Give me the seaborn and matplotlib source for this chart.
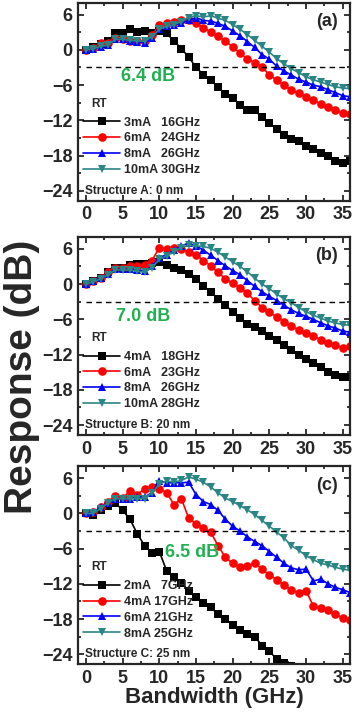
import numpy as np
import pandas as pd
import matplotlib
matplotlib.use("Agg")
import matplotlib.pyplot as plt
from matplotlib.ticker import MultipleLocator
import seaborn as sns

# ── data (frequency in GHz, response in dB) ──────────────────
freq = list(range(0, 37))

a_3mA = [0, 0.5, 1, 1.5, 2.8, 2.8, 3.5, 3, 3.2, 2.8, 3.2, 2.8, 1.5, 0.2, -1.2, -3, -4.2,
         -5.2, -6.3, -7.6, -8.2, -9.4, -10.2, -10.3, -11.5, -12.5, -13.5, -14.5, -15.2,
         -15.6, -16.3, -16.8, -17.5, -18, -19, -19.2, -19]
a_6mA = [0, 0.3, 1.2, 1.2, 2, 1.8, 1.5, 1.5, 1.5, 2.5, 4.2, 4.5, 4.8, 5, 5, 4.5, 3.8,
         3, 2.4, 1.5, 0.5, -0.6, -1.5, -2.2, -3, -4.2, -5.2, -6, -6.8, -7.4, -8, -8.6,
         -9.2, -9.7, -10.2, -10.8, -11]
a_8mA = [0, 0.2, 0.5, 0.8, 1.8, 1.8, 1.5, 1.3, 1.2, 2, 3.5, 4, 4.3, 4.5, 5, 5.5, 5,
         4.9, 4.5, 4, 3.2, 2.4, 1.4, 0.4, -0.8, -1.6, -2.8, -3.6, -4.3, -5, -5.5, -6,
         -6.3, -6.8, -7.3, -7.8, -8]
a_10mA = [0, 0.2, 0.6, 0.8, 1.8, 1.8, 1.6, 1.5, 1.5, 2.2, 3.5, 4, 4.3, 4.8, 5.5, 5.8,
          5.6, 5.8, 5.4, 5, 4.3, 3.5, 2.6, 1.6, 0.6, -0.4, -1.5, -2.4, -3.2, -3.9, -4.6,
          -5.1, -5.5, -5.9, -6.3, -6.5, -6.6]

b_4mA = [0, 0.5, 1, 2, 2.8, 2.8, 3.2, 3.5, 3.5, 3.6, 3.8, 3.2, 2.8, 2.4, 1.8, 0.8, -0.3,
         -1.3, -2.5, -3.5, -4.8, -5.8, -6.8, -7.3, -8, -8.8, -9.5, -10.3, -11.3, -12,
         -12.8, -13.5, -14.2, -15, -15.5, -15.8, -15.8]
b_6mA = [0, 0.5, 1, 2, 2.8, 2.8, 3, 3, 3.2, 4, 6.2, 6, 6.2, 6, 5.5, 5, 4, 3.1, 2, 0.9,
         0.1, -0.6, -1.6, -2.8, -4, -4.8, -5.6, -6.4, -7.2, -7.8, -8.3, -8.8, -9.5, -10,
         -10.4, -10.8, -10.6]
b_8mA = [0, 0.5, 1, 1.8, 2.5, 2.5, 2.5, 2.4, 2.3, 3, 4.5, 5, 5.8, 6.5, 7, 6.5, 5.8, 4.9,
         4, 3.1, 2.3, 1.6, 0.6, -0.4, -1.3, -2.1, -2.8, -3.6, -4.4, -5, -5.5, -6, -6.6,
         -7.1, -7.5, -8, -8.2]
b_10mA = [0, 0.4, 0.9, 1.6, 2.4, 2.4, 2.4, 2.2, 2, 2.8, 4.2, 4.8, 5.5, 6.2, 6.6, 6.5,
          6.4, 6.1, 5.4, 4.6, 3.8, 3, 2.1, 1, 0, -0.8, -1.7, -2.5, -3.2, -4, -4.7, -5.3,
          -5.8, -6.3, -6.6, -6.9, -7]

c_2mA = [0, -0.2, 0.5, 1.2, 1.8, 0.5, -1, -3.5, -5.5, -6.8, -6.5, -9.8, -10.8, -11.8,
         -13.2, -14.2, -15.2, -16, -17.2, -18, -19, -19.8, -20.5, -21, -22.5, -23.5,
         -24.8, -25.5, -26, -26.5, -27, -27.5, -28, -28.5, -29, -29.5, -30]
c_4mA = [0, 0.2, 1, 2, 3, 2.6, 3.8, 3.2, 4.2, 4.5, 4.2, 3.5, 1.5, 2.5, -0.8, -1.8, -2.5,
         -3.2, -5.5, -7.5, -8.5, -9.2, -9, -8.5, -9.5, -10.5, -11.3, -12.2, -13, -13.5,
         -13.2, -15.8, -16.2, -16.5, -17.2, -17.8, -18.2]
c_6mA = [0, 0.2, 1, 1.8, 2.5, 2.5, 2.5, 2.8, 2.8, 3.5, 5.5, 5.2, 5.2, 5.2, 5.3, 3.2, 2,
         1.5, 0.5, -1, -2.2, -3, -4, -4.8, -5.5, -6.5, -7.5, -8.5, -9.3, -9.6, -9.5,
         -11.5, -11.2, -12, -12.6, -13, -13.5]
c_8mA = [0, 0, 0.8, 1.8, 2.5, 2.5, 2.5, 2.5, 2.5, 3.5, 5, 5.5, 5.3, 5.6, 6.2, 5.8, 5.3,
         4.5, 3.5, 2.6, 2, 1.3, 0.6, -0.2, -1.2, -2.2, -3.2, -4.2, -5.5, -6.3, -7.2,
         -7.9, -8.5, -8.8, -9.2, -9.5, -9.7]

labels_a = ["3mA   16GHz", "6mA   24GHz", "8mA   26GHz", "10mA 30GHz"]
labels_b = ["4mA   18GHz", "6mA   23GHz", "8mA   26GHz", "10mA 28GHz"]
labels_c = ["2mA   7GHz", "4mA 17GHz", "6mA 21GHz", "8mA 25GHz"]

gain_text = ["6.4 dB", "7.0 dB", "6.5 dB"]
panel_tags = ["(a)", "(b)", "(c)"]
structures = ["Structure A: 0 nm", "Structure B: 20 nm", "Structure C: 25 nm"]

x_ticks = [0, 5, 10, 15, 20, 25, 30, 35]
y_ticks = [6, 0, -6, -12, -18, -24]

colors = ["#000000", "#ff0000", "#0000ff", "#2a8585"]
markers = ["s", "o", "^", "v"]

# ── style ────────────────────────────────────────────────────
sns.set_style("ticks")
plt.rcParams["font.family"] = ["Liberation Sans", "DejaVu Sans"]
plt.rcParams["font.weight"] = "bold"
plt.rcParams["axes.labelweight"] = "bold"

fig = plt.figure(figsize=(3.54, 7.12), dpi=100)
bottoms = [0.718, 0.389, 0.067]

panels = [
    ([a_3mA, a_6mA, a_8mA, a_10mA], labels_a),
    ([b_4mA, b_6mA, b_8mA, b_10mA], labels_b),
    ([c_2mA, c_4mA, c_6mA, c_8mA], labels_c),
]
gain_pos = [(8.5, -4.6), (7.8, -5.5), (14.5, -6.7)]

axes = []
for i, (series, labels) in enumerate(panels):
    ax = fig.add_axes([0.220, bottoms[i], 0.769, 0.278])
    axes.append(ax)
    for vals, lab, col, mk in zip(series, labels, colors, markers):
        df = pd.DataFrame({"f": freq, "r": vals})
        sns.lineplot(data=df, x="f", y="r", ax=ax, color=col, marker=mk,
                     markersize=6.2, markeredgewidth=0, linewidth=1.2,
                     label=lab, legend=False)

    # -3 dB reference
    ax.hlines(-3, 0, 36, colors="black", linestyles=(0, (4, 3)), linewidth=1)

    ax.set_xlim(-1.1, 36)
    ax.set_ylim(-25.7, 8)
    ax.set_xticks(x_ticks)
    ax.set_yticks(y_ticks)
    ax.xaxis.set_minor_locator(MultipleLocator(2.5))
    ax.yaxis.set_minor_locator(MultipleLocator(3))
    ax.tick_params(which="both", direction="in", top=True, right=True,
                   width=1.3, labelsize=13)
    ax.tick_params(which="major", length=4, pad=4)
    ax.tick_params(which="minor", length=2)
    for lbl in ax.get_xticklabels() + ax.get_yticklabels():
        lbl.set_fontweight("bold")
    for sp in ax.spines.values():
        sp.set_linewidth(1.6)
    ax.set_xlabel("")
    ax.set_ylabel("")

    ax.text(gain_pos[i][0], gain_pos[i][1], gain_text[i], color="#1fb150",
            fontsize=13, fontweight="bold", ha="center", va="center")
    ax.text(0.955, 0.905, panel_tags[i], transform=ax.transAxes, fontsize=13,
            fontweight="bold", ha="right", va="center")
    ax.text(0.05, 0.49, "RT", transform=ax.transAxes, fontsize=8.5,
            fontweight="bold", ha="left", va="center")
    ax.text(0.025, 0.05, structures[i], transform=ax.transAxes, fontsize=8.5,
            fontweight="bold", ha="left", va="center")

    leg = ax.legend(loc="lower left", bbox_to_anchor=(0.0, 0.10), frameon=False,
                    fontsize=9, handlelength=3.0, handletextpad=0.3,
                    labelspacing=0.3, borderpad=0.2, borderaxespad=0.2)
    for t in leg.get_texts():
        t.set_fontweight("bold")

axes[2].set_xlabel("Bandwidth (GHz)", fontsize=16, fontweight="bold", labelpad=0)
fig.text(0.062, 0.47, "Response (dB)", rotation=90, fontsize=28,
         fontweight="bold", ha="center", va="center")

fig.savefig("out.png", dpi=100)
